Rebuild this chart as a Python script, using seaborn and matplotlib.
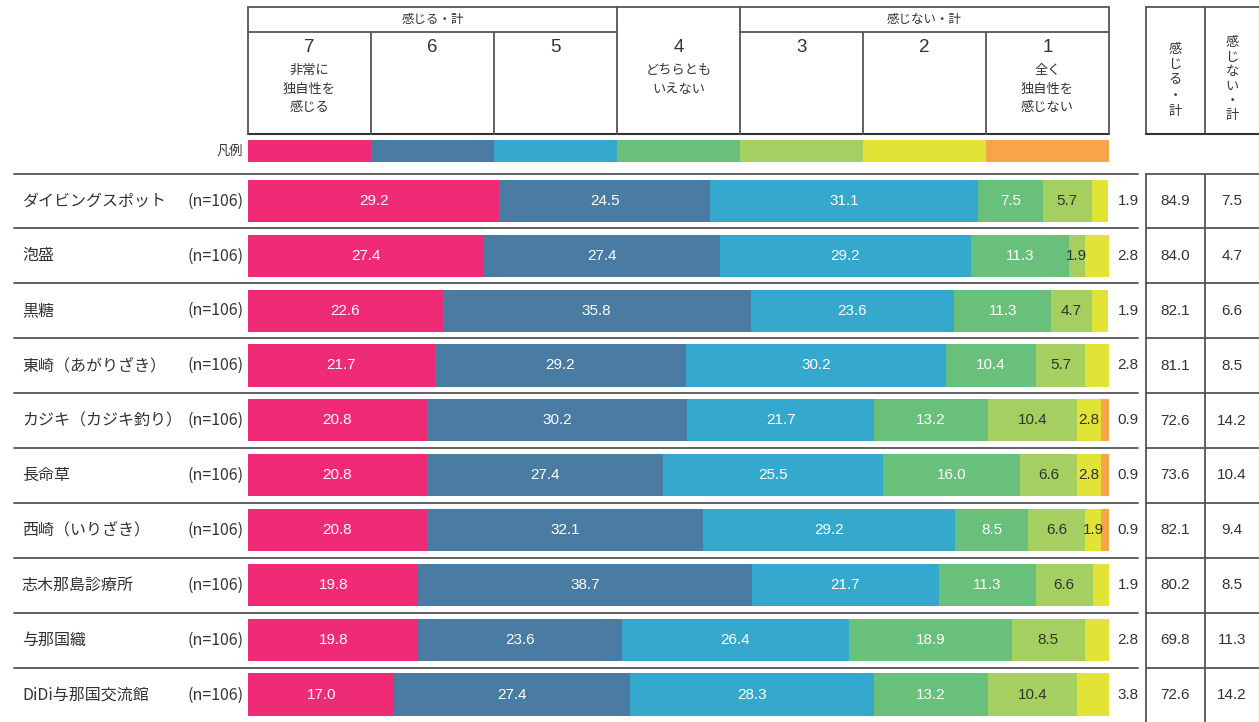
import pandas as pd
import matplotlib.pyplot as plt
import seaborn as sns
from matplotlib.patches import Rectangle

# data (%)
items = ['ダイビングスポット', '泡盛', '黒糖', '東崎（あがりざき）', 'カジキ（カジキ釣り）',
         '長命草', '西崎（いりざき）', '志木那島診療所', '与那国織', 'DiDi与那国交流館']
n_label = '(n=106)'
scale_labels = ['7', '6', '5', '4', '3', '2', '1']
scale_notes = ['非常に\n独自性を\n感じる', '', '', 'どちらとも\nいえない', '', '', '全く\n独自性を\n感じない']
s7 = [29.2, 27.4, 22.6, 21.7, 20.8, 20.8, 20.8, 19.8, 19.8, 17.0]
s6 = [24.5, 27.4, 35.8, 29.2, 30.2, 27.4, 32.1, 38.7, 23.6, 27.4]
s5 = [31.1, 29.2, 23.6, 30.2, 21.7, 25.5, 29.2, 21.7, 26.4, 28.3]
s4 = [7.5, 11.3, 11.3, 10.4, 13.2, 16.0, 8.5, 11.3, 18.9, 13.2]
s3 = [5.7, 1.9, 4.7, 5.7, 10.4, 6.6, 6.6, 6.6, 8.5, 10.4]
s2 = [1.9, 2.8, 1.9, 2.8, 2.8, 2.8, 1.9, 1.9, 2.8, 3.8]
s1 = [0.0, 0.0, 0.0, 0.0, 0.9, 0.9, 0.9, 0.0, 0.0, 0.0]
feel_total = [84.9, 84.0, 82.1, 81.1, 72.6, 73.6, 82.1, 80.2, 69.8, 72.6]
notfeel_total = [7.5, 4.7, 6.6, 8.5, 14.2, 10.4, 9.4, 8.5, 11.3, 14.2]

colors = ['#ee2b74', '#4a7ba3', '#35a8ce', '#68c07b', '#a5cf60', '#e1e337', '#f8a54a']
series = [s7, s6, s5, s4, s3, s2, s1]

sns.set_style('white')
plt.rcParams['font.family'] = ['Noto Sans CJK JP', 'DejaVu Sans']
NUM = 'Liberation Sans'
TXT = '#333333'

W, H = 1259, 722
fig = plt.figure(figsize=(W / 100, H / 100), dpi=100)

# background axes in pixel units for the table frame and text
bg = fig.add_axes([0, 0, 1, 1])
bg.set_xlim(0, W)
bg.set_ylim(H, 0)
bg.axis('off')

bar_l, bar_r = 248, 1109
col_w = (bar_r - bar_l) / 7
top_y, pitch = 173.5, 54.9

# bar axes
ax = fig.add_axes([bar_l / W, 0, (bar_r - bar_l) / W, (H - top_y) / H])
ax.patch.set_alpha(0)

df = pd.DataFrame(dict(zip(scale_labels, series)), index=items)
cum = df.cumsum(axis=1)
for k in range(6, -1, -1):
    d = pd.DataFrame({'item': items, 'val': cum.iloc[:, k].values})
    sns.barplot(data=d, x='val', y='item', order=items, color=colors[k], orient='h',
                width=0.77, saturation=1, linewidth=0, ax=ax)
ax.set_xlim(0, 100)
ax.set_ylim(len(items) - 0.5, -0.5)
ax.axis('off')

# segment labels
for i in range(len(items)):
    vals = df.iloc[i].values
    last = max(k for k in range(7) if vals[k] > 0)
    left = 0
    for k in range(7):
        v = vals[k]
        if k < last:
            ax.text(left + v / 2, i, f'{v:.1f}', ha='center', va='center', fontsize=11,
                    family=NUM, color='white' if k < 4 else TXT)
        left += v
    ax.text(102.2, i, f'{vals[last]:.1f}', ha='center', va='center', fontsize=11,
            family=NUM, color=TXT)

# row labels, separators and totals table
lc = '#555555'
for i, name in enumerate(items):
    yc = top_y + pitch * (i + 0.5)
    bg.text(22, yc, name, ha='left', va='center', fontsize=11.5, color=TXT)
    bg.text(244, yc, n_label, ha='right', va='center', fontsize=11.5, color=TXT)
    bg.text(1175, yc, f'{feel_total[i]:.1f}', ha='center', va='center', fontsize=11,
            family=NUM, color=TXT)
    bg.text(1232, yc, f'{notfeel_total[i]:.1f}', ha='center', va='center', fontsize=11,
            family=NUM, color=TXT)
    ys = top_y + pitch * i
    bg.plot([14, 1138], [ys, ys], color=lc, lw=1.3)
    bg.plot([1146, W], [ys, ys], color=lc, lw=1.3)
for x in [1146, 1205]:
    bg.plot([x, x], [top_y, H], color=lc, lw=1.3)
    bg.plot([x, x], [7, 134], color=lc, lw=1.3)
bg.plot([1146, W], [7, 7], color=lc, lw=1.3)
bg.plot([1146, W], [134, 134], color='#333333', lw=1.5)

# header table
xs = [bar_l + col_w * j for j in range(8)]
bg.plot([bar_l, bar_r], [7, 7], color=lc, lw=1.3)
bg.plot([bar_l, bar_r], [134, 134], color='#333333', lw=1.5)
bg.plot([xs[0], xs[3]], [32, 32], color=lc, lw=1.3)
bg.plot([xs[4], xs[7]], [32, 32], color=lc, lw=1.3)
for j, x in enumerate(xs):
    y0 = 7 if j in (0, 3, 4, 7) else 32
    bg.plot([x, x], [y0, 134], color=lc, lw=1.3)
bg.text((xs[0] + xs[3]) / 2, 19.5, '感じる・計', ha='center', va='center', fontsize=9, color=TXT)
bg.text((xs[4] + xs[7]) / 2, 19.5, '感じない・計', ha='center', va='center', fontsize=9, color=TXT)
for j in range(7):
    xc = (xs[j] + xs[j + 1]) / 2
    bg.text(xc, 47, scale_labels[j], ha='center', va='center', fontsize=13.5, family=NUM, color=TXT)
    if scale_notes[j]:
        bg.text(xc, 64, scale_notes[j], ha='center', va='top', fontsize=9.5, color=TXT,
                linespacing=1.55)
bg.text(1175, 80, '\n'.join('感じる・計'), ha='center', va='center', fontsize=9.5, color=TXT,
        linespacing=1.25)
bg.text(1232, 79, '\n'.join('感じない・計'), ha='center', va='center', fontsize=9.5, color=TXT,
        linespacing=1.15)

# legend strip
bg.text(243, 151, '凡例', ha='right', va='center', fontsize=9.5, color=TXT)
for j in range(7):
    bg.add_patch(Rectangle((xs[j], 140), col_w, 22, color=colors[j], lw=0))

fig.savefig('out.png', dpi=100)
